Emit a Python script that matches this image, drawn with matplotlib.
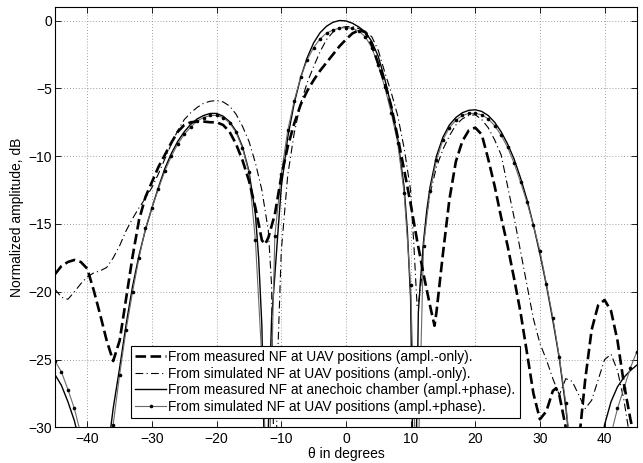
import matplotlib
matplotlib.use("Agg")
import matplotlib.pyplot as plt
import numpy as np

plt.rcParams['font.family'] = ['Liberation Sans', 'DejaVu Sans']

# Measured near field at UAV positions, amplitude only (thick dashed)
theta_a = [-45, -44, -43, -42, -41, -40, -39, -38, -37, -36, -35, -34, -33, -32, -31,
           -30, -29, -28, -27, -26, -25, -24, -23, -22, -21, -20, -19, -18, -17, -16,
           -15, -14, -13, -12.5, -12, -11, -10, -9, -8, -7, -6, -5, -4, -3, -2, -1,
           0, 1, 2, 3, 4, 5, 6, 7, 8, 9, 10, 11, 12, 13, 13.7, 14, 15, 16, 17, 18,
           19, 20, 21, 22, 23, 24, 25, 26, 27, 28, 29, 30, 31, 32, 32.5, 33, 34, 35,
           35.5, 36, 37, 38, 39, 40, 41, 42, 43, 44, 45]
db_a = [-18.7, -18.1, -17.8, -17.65, -17.8, -18.3, -19.9, -21.7, -23.6, -25.1, -23.6,
        -20.5, -17.4, -14.7, -13.0, -11.9, -10.8, -9.9, -9.0, -8.2, -7.7, -7.5, -7.45,
        -7.45, -7.5, -7.5, -7.7, -8.2, -9.1, -10.3, -11.8, -13.8, -16.2, -16.5, -16.0,
        -14.3, -11.5, -9.3, -7.6, -6.2, -5.2, -4.4, -3.7, -3.1, -2.5, -1.9, -1.4,
        -0.95, -0.72, -0.85, -1.8, -3.2, -4.6, -6.3, -8.6, -11.0, -13.5, -16.2, -18.7,
        -21.0, -22.5, -21.5, -17.2, -13.2, -10.4, -8.9, -8.1, -7.9, -8.4, -10.2, -12.2,
        -14.5, -16.6, -19.0, -21.5, -24.5, -27.5, -29.4, -28.8, -27.3, -27.1, -27.6,
        -30.0, -34.0, -35.0, -31.2, -26.5, -22.8, -21.0, -20.6, -21.4, -23.6, -26.8,
        -29.4, -31.5]

# Simulated near field at UAV positions, amplitude only (dash-dot)
theta_b = [-45, -44, -43, -42, -41, -40, -39, -38, -37, -36, -35, -34, -33, -32, -31,
           -30, -29, -28, -27, -26, -25, -24, -23, -22, -21, -20, -19, -18, -17, -16,
           -15, -14, -13, -12, -11.5, -11, -10.5, -10, -9, -8, -7, -6, -5, -4, -3, -2,
           -1, 0, 1, 2, 3, 4, 5, 6, 7, 8, 9, 10, 10.5, 11, 11.3, 11.7, 12, 12.5, 13,
           14, 15, 16, 17, 18, 19, 20, 21, 22, 23, 24, 25, 26, 27, 28, 29, 30, 31, 32,
           33, 34, 35, 36, 37, 38, 39, 40, 41, 42, 43, 44, 45]
db_b = [-19.8, -20.4, -20.55, -20.0, -19.4, -18.9, -18.6, -18.45, -18.2, -17.5, -16.6,
        -15.5, -14.6, -13.8, -13.1, -12.3, -11.3, -10.2, -9.1, -8.1, -7.3, -6.8, -6.4,
        -6.1, -5.95, -5.9, -6.0, -6.3, -6.9, -7.8, -8.9, -10.5, -12.5, -15.5, -19.5,
        -38.0, -24.0, -17.0, -11.4, -8.3, -6.1, -4.6, -3.4, -2.3, -1.4, -0.85, -0.55,
        -0.45, -0.45, -0.6, -0.8, -1.2, -2.2, -3.8, -5.3, -7.0, -9.4, -12.5, -16.5,
        -21.0, -20.6, -19.0, -16.5, -14.3, -12.8, -10.8, -9.5, -8.5, -7.7, -7.25, -7.0,
        -6.95, -7.3, -7.9, -8.8, -9.9, -12.2, -14.5, -17.0, -19.5, -22.0, -23.8, -25.0,
        -26.4, -27.6, -26.4, -26.6, -27.6, -28.6, -28.0, -26.5, -25.0, -24.6, -25.8,
        -28.0, -31.0, -34.0]

# Measured near field in anechoic chamber, amplitude and phase (solid)
theta_c = [-45, -44, -43, -42, -41, -40, -39, -38, -37, -36.5, -36, -35, -34, -33, -32,
           -31, -30, -29, -28, -27, -26, -25, -24, -23, -22, -21, -20, -19, -18, -17,
           -16, -15, -14, -13.5, -13, -12.3, -12, -11.5, -11, -10.5, -10, -9, -8, -7,
           -6, -5, -4, -3, -2, -1, 0, 1, 2, 3, 4, 5, 6, 7, 8, 9, 9.5, 10, 10.6, 11.2,
           11.5, 12, 12.5, 13, 14, 15, 16, 17, 18, 19, 20, 21, 22, 23, 24, 25, 26, 27,
           28, 29, 30, 31, 32, 33, 34, 35, 36, 37, 38, 39, 40, 41, 42, 43, 44, 45]
db_c = [-26.1, -26.9, -28.1, -29.5, -31.5, -34.0, -37.0, -40.0, -35.0, -30.5, -28.6,
        -25.6, -22.4, -19.6, -17.3, -15.4, -13.8, -12.3, -10.9, -9.8, -8.9, -8.2, -7.65,
        -7.25, -7.0, -6.85, -6.85, -7.05, -7.45, -8.15, -9.3, -11.1, -14.3, -17.5, -22.5,
        -40.0, -30.0, -22.0, -18.8, -15.5, -12.3, -8.6, -6.1, -4.2, -2.75, -1.65, -0.9,
        -0.42, -0.13, 0.0, -0.03, -0.2, -0.48, -0.85, -1.55, -2.65, -4.3, -6.3, -8.7,
        -12.3, -15.5, -20.5, -40.0, -21.5, -19.3, -16.3, -14.0, -12.3, -10.0, -8.6, -7.7,
        -7.15, -6.8, -6.62, -6.58, -6.7, -7.0, -7.5, -8.2, -9.1, -10.2, -11.6, -13.2,
        -15.1, -17.2, -19.5, -22.1, -24.9, -28.5, -33.0, -37.0, -39.0, -37.0, -33.0,
        -29.8, -28.1, -27.0, -26.3, -25.8, -25.4]

# Simulated near field at UAV positions, amplitude and phase (dotted markers, 1 deg step)
theta_d = list(range(-45, 46))
db_d = [-25.1, -25.9, -27.2, -28.6, -30.5, -33.0, -36.0, -38.0, -34.0, -29.8, -26.1,
        -22.8, -20.0, -17.5, -15.3, -13.8, -12.4, -11.1, -10.0, -9.1, -8.4, -7.85, -7.4,
        -7.15, -7.0, -7.0, -7.15, -7.55, -8.25, -9.4, -11.2, -16.2, -25.0, -36.0, -15.9,
        -11.3, -8.1, -5.9, -4.2, -2.9, -2.0, -1.35, -0.93, -0.7, -0.56, -0.52, -0.58,
        -0.78, -1.2, -2.0, -3.3, -4.9, -6.8, -9.0, -12.7, -19.5, -36.0, -16.6, -12.6,
        -10.3, -8.8, -7.9, -7.35, -7.0, -6.85, -6.85, -6.95, -7.25, -7.75, -8.45, -9.35,
        -10.5, -11.9, -13.4, -15.1, -17.0, -19.4, -21.9, -24.8, -28.2, -33.0, -37.0,
        -40.0, -38.0, -35.0, -32.0, -30.5, -28.6, -27.1, -25.6, -24.4]

labels = [
    "From measured NF at UAV positions (ampl.-only).",
    "From simulated NF at UAV positions (ampl.-only).",
    "From measured NF at anechoic chamber (ampl.+phase).",
    "From simulated NF at UAV positions (ampl.+phase).",
]

fig = plt.figure(figsize=(6.43, 4.63), dpi=100)
ax = fig.add_axes([0.0855, 0.0767, 0.9050, 0.9083])

ax.plot(theta_a, db_a, color='black', lw=1.9, dashes=(4.0, 1.7), label=labels[0], zorder=4)
ax.plot(theta_b, db_b, color='black', lw=0.8, dashes=(7, 3, 1, 3), label=labels[1], zorder=3)
ax.plot(theta_c, db_c, color='black', lw=1.0, label=labels[2], zorder=3)
ax.plot(theta_d, db_d, color='#6a6a6a', lw=0.8, marker='o', markersize=2.6,
        markerfacecolor='black', markeredgecolor='black', markeredgewidth=0,
        label=labels[3], zorder=3)

ax.set_xlim(-45, 45)
ax.set_ylim(-30, 1)
ax.set_xticks(np.arange(-40, 41, 10))
ax.set_yticks(np.arange(-30, 1, 5))
ax.grid(True, color='0.5', linestyle=(0, (1, 2.5)), linewidth=0.6)
ax.tick_params(direction='in', length=4, width=0.6, top=True, right=True,
               labelsize=10, pad=3)
ax.tick_params(axis='y', pad=2)
for s in ax.spines.values():
    s.set_linewidth(0.8)

ax.set_xlabel("θ in degrees", fontsize=10, labelpad=1)
ax.set_ylabel("Normalized amplitude, dB", fontsize=10, labelpad=3)

leg = ax.legend(loc='lower left', bbox_to_anchor=(0.1308, 0.0226), borderaxespad=0,
                fontsize=9.9, frameon=True, fancybox=False, framealpha=1,
                edgecolor='black', handlelength=2.2, handletextpad=0.2,
                labelspacing=0.18, borderpad=0.32)
leg.get_frame().set_linewidth(0.8)
leg.set_zorder(10)

fig.savefig("out.png", dpi=100)
